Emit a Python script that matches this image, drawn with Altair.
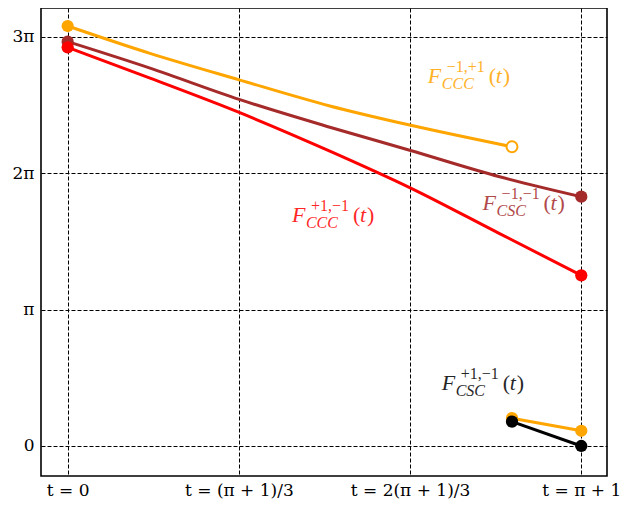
import math
import altair as alt
import pandas as pd

PI = math.pi
T_END = PI + 1

# ---- data ----
t_ccc_m1p1 = [0.0, 0.664, 1.383, 2.114, 2.758, 3.583]
y_ccc_m1p1 = [9.67, 9.04, 8.43, 7.83, 7.39, 6.89]

t_csc_m1m1 = [0.0, 0.664, 1.383, 2.114, 2.758, 3.483, T_END]
y_csc_m1m1 = [9.31, 8.70, 7.98, 7.34, 6.81, 6.20, 5.74]

t_ccc_p1m1 = [0.0, 0.664, 1.383, 2.114, 2.758, 3.483, T_END]
y_ccc_p1m1 = [9.18, 8.47, 7.68, 6.79, 5.95, 4.89, 3.93]

t_csc_p1m1 = [3.583, T_END]
y_csc_p1m1 = [0.56, 0.0]

t_short_orange = [3.583, T_END]
y_short_orange = [0.64, 0.35]

x_ticks = [0.0, T_END / 3, 2 * T_END / 3, T_END]
x_tick_labels = ["t = 0", "t = (π + 1)/3", "t = 2(π + 1)/3", "t = π + 1"]
y_ticks = [0.0, PI, 2 * PI, 3 * PI]
y_tick_labels = ["0", "π", "2π", "3π"]

label_t = [2.904, 1.808, 3.346, 3.016]
label_v = [8.35, 5.155, 5.43, 1.283]
label_sup = ["−1,+1", "+1,−1", "−1,−1", "+1,−1"]
label_sub = ["CCC", "CCC", "CSC", "CSC"]
label_color = ["#FFA500", "#FF0000", "#A52A2A", "#000000"]

ORANGE, BROWN, RED, BLACK = "#FFA500", "#A52A2A", "#FF0000", "#000000"
SERIF = "Liberation Serif"
AXIS_FONT = "DejaVu Serif"

xs = alt.Scale(domain=[-0.215, 4.349], nice=False, zero=False)
ys = alt.Scale(domain=[-0.691, 10.085], nice=False, zero=False)

def lab_expr(vals, labels):
    parts = []
    for v, l in zip(vals, labels):
        parts.append(f"abs(datum.value - {v}) < 0.01 ? '{l}' : ")
    return "".join(parts) + "''"

X = lambda: alt.X("t:Q", scale=xs, axis=alt.Axis(
    values=x_ticks, labelExpr=lab_expr(x_ticks, x_tick_labels), title=None,
    labelPadding=6, labelFlush=False))
Y = lambda: alt.Y("y:Q", scale=ys, axis=alt.Axis(
    values=y_ticks, labelExpr=lab_expr(y_ticks, y_tick_labels), title=None,
    labelPadding=7))

def series(ts, ys_, color, start="filled", end="filled"):
    df = pd.DataFrame({"t": ts, "y": ys_})
    line = alt.Chart(df).mark_line(color=color, strokeWidth=3,
                                   interpolate="monotone").encode(x=X(), y=Y())
    layers = [line]
    first = df.iloc[[0]]
    last = df.iloc[[-1]]
    for pt, kind in ((first, start), (last, end)):
        if kind == "filled":
            layers.append(alt.Chart(pt).mark_circle(color=color, size=150, opacity=1)
                          .encode(x=X(), y=Y()))
        elif kind == "open":
            layers.append(alt.Chart(pt).mark_point(shape="circle", fill="white",
                                                   stroke=color, strokeWidth=2,
                                                   size=120, opacity=1, filled=False)
                          .encode(x=X(), y=Y()))
    return layers

layers = []
layers += series(t_ccc_m1p1, y_ccc_m1p1, ORANGE, "filled", "open")
layers += series(t_csc_m1m1, y_csc_m1m1, BROWN)
layers += series(t_ccc_p1m1, y_ccc_p1m1, RED)
layers += series(t_short_orange, y_short_orange, ORANGE)
layers += series(t_csc_p1m1, y_csc_p1m1, BLACK)

lab = pd.DataFrame({"t": label_t, "y": label_v, "sup": label_sup,
                    "sub": label_sub, "color": label_color,
                    "F": ["F"] * 4, "lp": ["("] * 4, "tt": ["t"] * 4, "rp": [")"] * 4})

def txt(field, dx, dy, size, style):
    return alt.Chart(lab).mark_text(align="left", baseline="alphabetic", dx=dx, dy=dy,
                                    font=SERIF, fontSize=size, fontStyle=style,
                                    opacity=0.85).encode(
        x=X(), y=Y(), text=f"{field}:N",
        color=alt.Color("color:N", scale=None))

layers += [
    txt("F", 0, 0, 22, "italic"),
    txt("sup", 19, -11, 16, "normal"),
    txt("sub", 14, 6, 16, "italic"),
    txt("lp", 61, 0, 22, "normal"),
    txt("tt", 68, 0, 22, "italic"),
    txt("rp", 75, 0, 22, "normal"),
]

chart = alt.layer(*layers).properties(
    width=566, height=468,
    autosize=alt.AutoSizeParams(type="none"),
    padding={"left": 33, "top": 0, "right": 20, "bottom": 30},
    background="white",
).configure_view(
    stroke="black", strokeWidth=1.6
).configure_axis(
    grid=True, gridDash=[4, 2], gridColor="black", gridWidth=1, gridOpacity=1,
    ticks=False, domain=False, labelFont=AXIS_FONT, labelFontSize=17,
    labelColor="black",
)

chart.save("out.html", embed_options={"renderer": "svg", "actions": False})
